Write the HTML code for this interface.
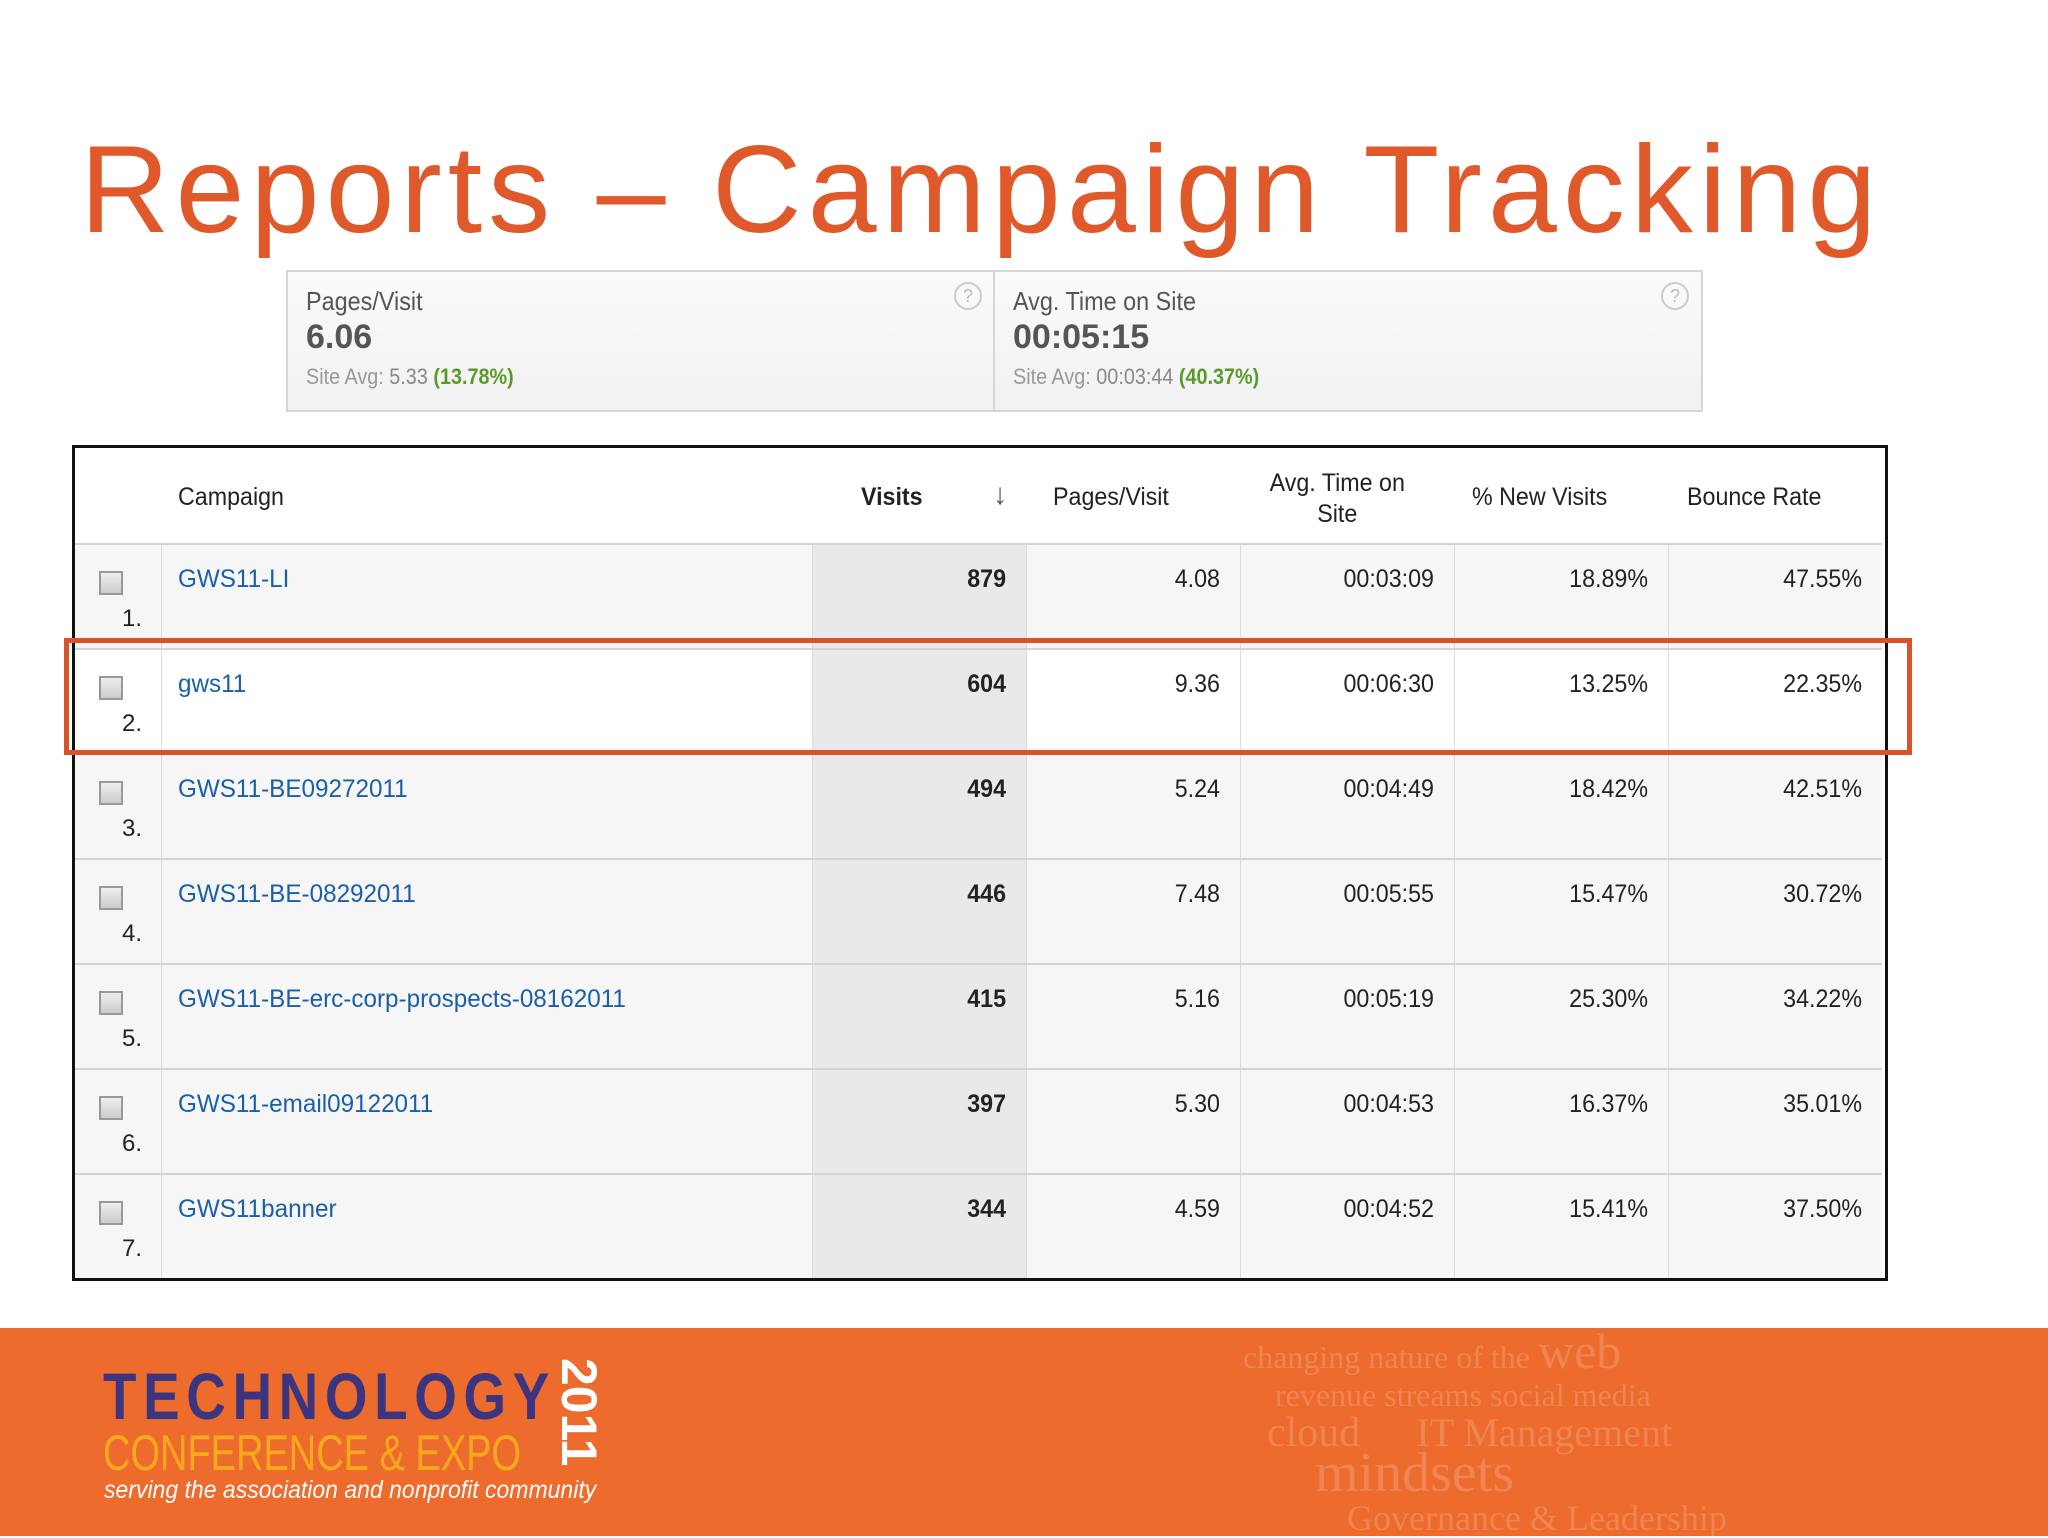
<!DOCTYPE html>
<html><head><meta charset="utf-8"><style>
*{margin:0;padding:0;box-sizing:border-box}
body{width:2048px;height:1536px;background:#fff;position:relative;overflow:hidden;font-family:"Liberation Sans",Arial,sans-serif}
.abs{position:absolute}
#title{left:80px;top:128px;font-size:124px;color:#e0592a;letter-spacing:6px;white-space:nowrap;line-height:1}
.sbox{top:270px;height:142px;background:linear-gradient(#fbfbfb,#f1f1f1);border:2px solid #d6d6d6}
.slab{font-size:26px;color:#555;position:absolute;left:18px;top:14px;transform:scaleX(.9);transform-origin:left}
.sval{font-size:34px;font-weight:bold;color:#555;position:absolute;left:18px;top:46px}
.savg{font-size:22px;color:#999;position:absolute;left:18px;top:92px;transform:scaleX(.9);transform-origin:left;white-space:nowrap}
.savg b{color:#5a9a2a}
.q{position:absolute;top:10px;width:28px;height:28px;border:2px solid #ccc;border-radius:50%;color:#bbb;font-size:18px;text-align:center;line-height:24px}
#tbl{left:72px;top:445px;width:1816px;height:836px;border:3px solid #111;background:#fff}
.hd{position:absolute;font-size:25px;color:#222;top:35px;white-space:nowrap;transform:scaleX(.93);transform-origin:left}
.row{position:absolute;left:0;width:1807px;height:105px;border-top:2px solid #d4d4d4;background:#f6f6f6}
.cell{position:absolute;top:0;height:103px;border-left:1px solid #dcdcdc}
.num{position:absolute;top:20px;font-size:25px;color:#222;text-align:right;transform:scaleX(.93);transform-origin:right}
.link{position:absolute;top:20px;left:103px;font-size:25px;color:#1a5fa8;white-space:nowrap;transform:scaleX(.97);transform-origin:left}
.cb{position:absolute;left:24px;top:26px;width:24px;height:24px;border:2px solid #999;background:linear-gradient(#eee,#ccc)}
.idx{position:absolute;left:47px;top:60px;font-size:24px;color:#222}
#hl{left:64px;top:638px;width:1848px;height:117px;border:5px solid #d9532a}
#foot{left:0;top:1328px;width:2048px;height:208px;background:#ec6b2d}
</style></head><body>
<div id="title" class="abs">Reports – Campaign Tracking</div>

<div class="abs sbox" style="left:286px;width:709px">
 <div class="slab">Pages/Visit</div><div class="sval">6.06</div>
 <div class="savg">Site Avg: <span style="color:#888">5.33</span> <b>(13.78%)</b></div>
 <div class="q" style="left:666px">?</div>
</div>
<div class="abs sbox" style="left:993px;width:710px">
 <div class="slab">Avg. Time on Site</div><div class="sval">00:05:15</div>
 <div class="savg">Site Avg: <span style="color:#888">00:03:44</span> <b>(40.37%)</b></div>
 <div class="q" style="left:666px">?</div>
</div>

<div id="tbl" class="abs">
 <div class="hd" style="left:103px">Campaign</div>
 <div class="hd" style="left:786px;font-weight:bold">Visits</div>
 <div class="hd" style="left:918px;font-size:30px;top:30px;color:#555">↓</div>
 <div class="hd" style="left:978px">Pages/Visit</div>
 <div class="hd" style="left:1160px;top:20px;text-align:center;line-height:31px;width:220px">Avg. Time on<br>Site</div>
 <div class="hd" style="left:1397px">% New Visits</div>
 <div class="hd" style="left:1612px">Bounce Rate</div>
 <div id="rows"></div>
</div>
<div id="hl" class="abs"></div>

<div id="foot" class="abs">
 <div class="abs" style="left:103px;top:30px;font-size:66px;font-weight:bold;color:#3b3580;letter-spacing:8px;transform:scaleX(.83);transform-origin:left">TECHNOLOGY</div>
 <div class="abs" style="left:103px;top:96px;font-size:50px;color:#f7a81d;transform:scaleX(.76);transform-origin:left;white-space:nowrap">CONFERENCE &amp; EXPO</div>
 <div class="abs" style="top:30px;font-size:50px;font-weight:bold;color:#fff;transform:rotate(90deg);transform-origin:left top;white-space:nowrap;left:608px">2011</div>
 <div class="abs" style="left:104px;top:148px;font-size:25px;font-style:italic;color:#fff;white-space:nowrap;transform:scaleX(.92);transform-origin:left">serving the association and nonprofit community</div>
 <div class="abs" style="left:1235px;top:4px;width:680px;color:rgba(255,255,255,.18);font-family:'Liberation Serif',serif;line-height:38px;font-size:32px;white-space:nowrap">
  &nbsp;changing nature of the <span style="font-size:50px">web</span><br>&nbsp;&nbsp;&nbsp;&nbsp;&nbsp;revenue streams social media<br>&nbsp;&nbsp;&nbsp;&nbsp;<span style="font-size:42px">cloud</span> &nbsp;&nbsp;&nbsp;&nbsp;&nbsp;&nbsp;<span style="font-size:40px">IT Management</span><br>&nbsp;&nbsp;&nbsp;&nbsp;&nbsp;&nbsp;&nbsp;&nbsp;&nbsp;&nbsp;<span style="font-size:56px">mindsets</span><br>&nbsp;&nbsp;&nbsp;&nbsp;&nbsp;&nbsp;&nbsp;&nbsp;&nbsp;&nbsp;&nbsp;&nbsp;&nbsp;&nbsp;<span style="font-size:36px">Governance &amp; Leadership</span></div>
</div>

<script>
const campaigns=["GWS11-LI","gws11","GWS11-BE09272011","GWS11-BE-08292011","GWS11-BE-erc-corp-prospects-08162011","GWS11-email09122011","GWS11banner"];
const visits=[879,604,494,446,415,397,344];
const pagesVisit=["4.08","9.36","5.24","7.48","5.16","5.30","4.59"];
const avgTime=["00:03:09","00:06:30","00:04:49","00:05:55","00:05:19","00:04:53","00:04:52"];
const newVisits=["18.89%","13.25%","18.42%","15.47%","25.30%","16.37%","15.41%"];
const bounce=["47.55%","22.35%","42.51%","30.72%","34.22%","35.01%","37.50%"];
const rows=document.getElementById('rows');
const colL=[86,737,951,1165,1379,1593], colR=[737,951,1165,1379,1593,1807];
for(let i=0;i<campaigns.length;i++){
 const r=document.createElement('div');
 r.className='row';r.style.top=(95+i*105)+'px';
 if(i===1)r.style.background='#fff';
 
 
 let h='<div class="cb"></div><div class="idx">'+(i+1)+'.</div>';
 for(let c=0;c<6;c++){
  const bg=c===1?'background:#e9e9e9;':'';
  h+='<div class="cell" style="left:'+colL[c]+'px;width:'+(colR[c]-colL[c])+'px;'+bg+'"></div>';
 }
 h+='<div class="link">'+campaigns[i]+'</div>';
 const vals=[visits[i],pagesVisit[i],avgTime[i],newVisits[i],bounce[i]];
 for(let c=0;c<5;c++){
  h+='<div class="num" style="left:'+colL[c+1]+'px;width:'+(colR[c+1]-colL[c+1]-20)+'px;'+(c===0?'font-weight:bold':'')+'">'+vals[c]+'</div>';
 }
 r.innerHTML=h;
 rows.appendChild(r);
}
</script>
</body></html>
